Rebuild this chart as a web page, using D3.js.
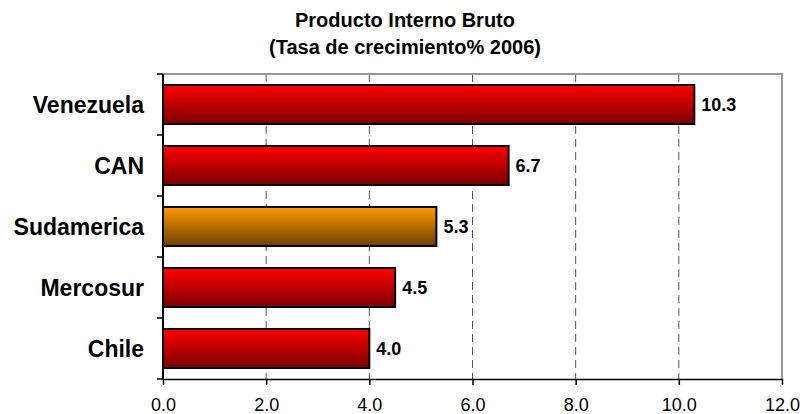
<!DOCTYPE html>
<html>
<head>
<meta charset="utf-8">
<script src="https://cdn.jsdelivr.net/npm/d3@7"></script>
<style>
  body { margin: 0; background: #fff; }
  text { font-family: "Liberation Sans", Arial, sans-serif; }
</style>
</head>
<body>
<svg id="chart" width="804" height="414"></svg>
<script>
// chart data
const categories = ["Venezuela", "CAN", "Sudamerica", "Mercosur", "Chile"];
const values = [10.3, 6.7, 5.3, 4.5, 4.0];
const highlight = ["Sudamerica"];
const xTicks = [0, 2, 4, 6, 8, 10, 12];
const titleLines = ["Producto Interno Bruto", "(Tasa de crecimiento% 2006)"];

const margin = {top: 74, right: 22, bottom: 35, left: 163},
      width = 804, height = 414;

const svg = d3.select("#chart");

// gradients for the bars
const defs = svg.append("defs");
function grad(id, top, bottom) {
  const g = defs.append("linearGradient")
      .attr("id", id)
      .attr("x1", 0).attr("y1", 0).attr("x2", 0).attr("y2", 1);
  g.append("stop").attr("offset", "0%").attr("stop-color", top);
  g.append("stop").attr("offset", "100%").attr("stop-color", bottom);
}
grad("gRed", "#ff0000", "#7a0000");
grad("gOrange", "#ff9900", "#6e3f00");

const x = d3.scaleLinear()
    .domain([0, 12])
    .range([margin.left, width - margin.right]);

const y = d3.scaleBand()
    .domain(categories)
    .range([margin.top, height - margin.bottom])
    .paddingInner(0.36)
    .paddingOuter(0.18);

const plotTop = margin.top, plotBottom = height - margin.bottom;

// title
svg.append("g").selectAll("text")
  .data(titleLines)
  .join("text")
    .attr("x", 405)
    .attr("y", (d, i) => 27 + i * 27)
    .attr("text-anchor", "middle")
    .attr("font-size", 20)
    .attr("font-weight", "bold")
    .text(d => d);

// gridlines (dashed)
svg.append("g").selectAll("line")
  .data(xTicks.filter(d => d > 0 && d < 12))
  .join("line")
    .attr("x1", d => x(d)).attr("x2", d => x(d))
    .attr("y1", plotTop).attr("y2", plotBottom)
    .attr("stroke", "#555")
    .attr("stroke-width", 1)
    .attr("stroke-dasharray", "8,5");

// plot frame top/right (gray)
svg.append("path")
    .attr("d", `M${x(0)},${plotTop}H${x(12)}V${plotBottom}`)
    .attr("fill", "none")
    .attr("stroke", "#999")
    .attr("stroke-width", 2);

// bars
svg.append("g").selectAll("rect")
  .data(categories)
  .join("rect")
    .attr("x", x(0))
    .attr("y", d => y(d))
    .attr("width", (d, i) => x(values[i]) - x(0))
    .attr("height", y.bandwidth())
    .attr("fill", d => highlight.includes(d) ? "url(#gOrange)" : "url(#gRed)")
    .attr("stroke", "#000")
    .attr("stroke-width", 2);

// value labels
svg.append("g").selectAll("text")
  .data(categories)
  .join("text")
    .attr("x", (d, i) => x(values[i]) + 7)
    .attr("y", d => y(d) + y.bandwidth() / 2)
    .attr("dy", "0.36em")
    .attr("font-size", 18)
    .attr("font-weight", "bold")
    .text((d, i) => values[i].toFixed(1));

// x axis
const xAxis = svg.append("g")
    .attr("transform", `translate(0,${plotBottom})`)
    .call(d3.axisBottom(x).tickValues(xTicks).tickFormat(d3.format(".1f"))
      .tickSize(6).tickSizeOuter(0).tickPadding(13));
xAxis.select(".domain").attr("stroke", "#000").attr("stroke-width", 1.5);
xAxis.selectAll(".tick line").attr("stroke", "#000").attr("stroke-width", 1.5);
xAxis.selectAll("text")
    .attr("font-size", 18)
    .attr("font-family", "Liberation Sans, Arial, sans-serif")
    .attr("fill", "#000");

// y axis: ticks at category boundaries
const bounds = d3.range(categories.length + 1).map(i => plotTop + i * (plotBottom - plotTop) / categories.length);
const yAxis = svg.append("g");
yAxis.append("line")
    .attr("x1", x(0)).attr("x2", x(0))
    .attr("y1", plotTop).attr("y2", plotBottom)
    .attr("stroke", "#000").attr("stroke-width", 2);
yAxis.selectAll("line.tk")
  .data(bounds)
  .join("line")
    .attr("class", "tk")
    .attr("x1", x(0) - 6).attr("x2", x(0))
    .attr("y1", d => d).attr("y2", d => d)
    .attr("stroke", "#000").attr("stroke-width", 1.5);
yAxis.selectAll("text")
  .data(categories)
  .join("text")
    .attr("x", 144)
    .attr("y", d => y(d) + y.bandwidth() / 2)
    .attr("dy", "0.36em")
    .attr("text-anchor", "end")
    .attr("font-size", 23)
    .attr("font-weight", "bold")
    .text(d => d);
</script>
</body>
</html>
